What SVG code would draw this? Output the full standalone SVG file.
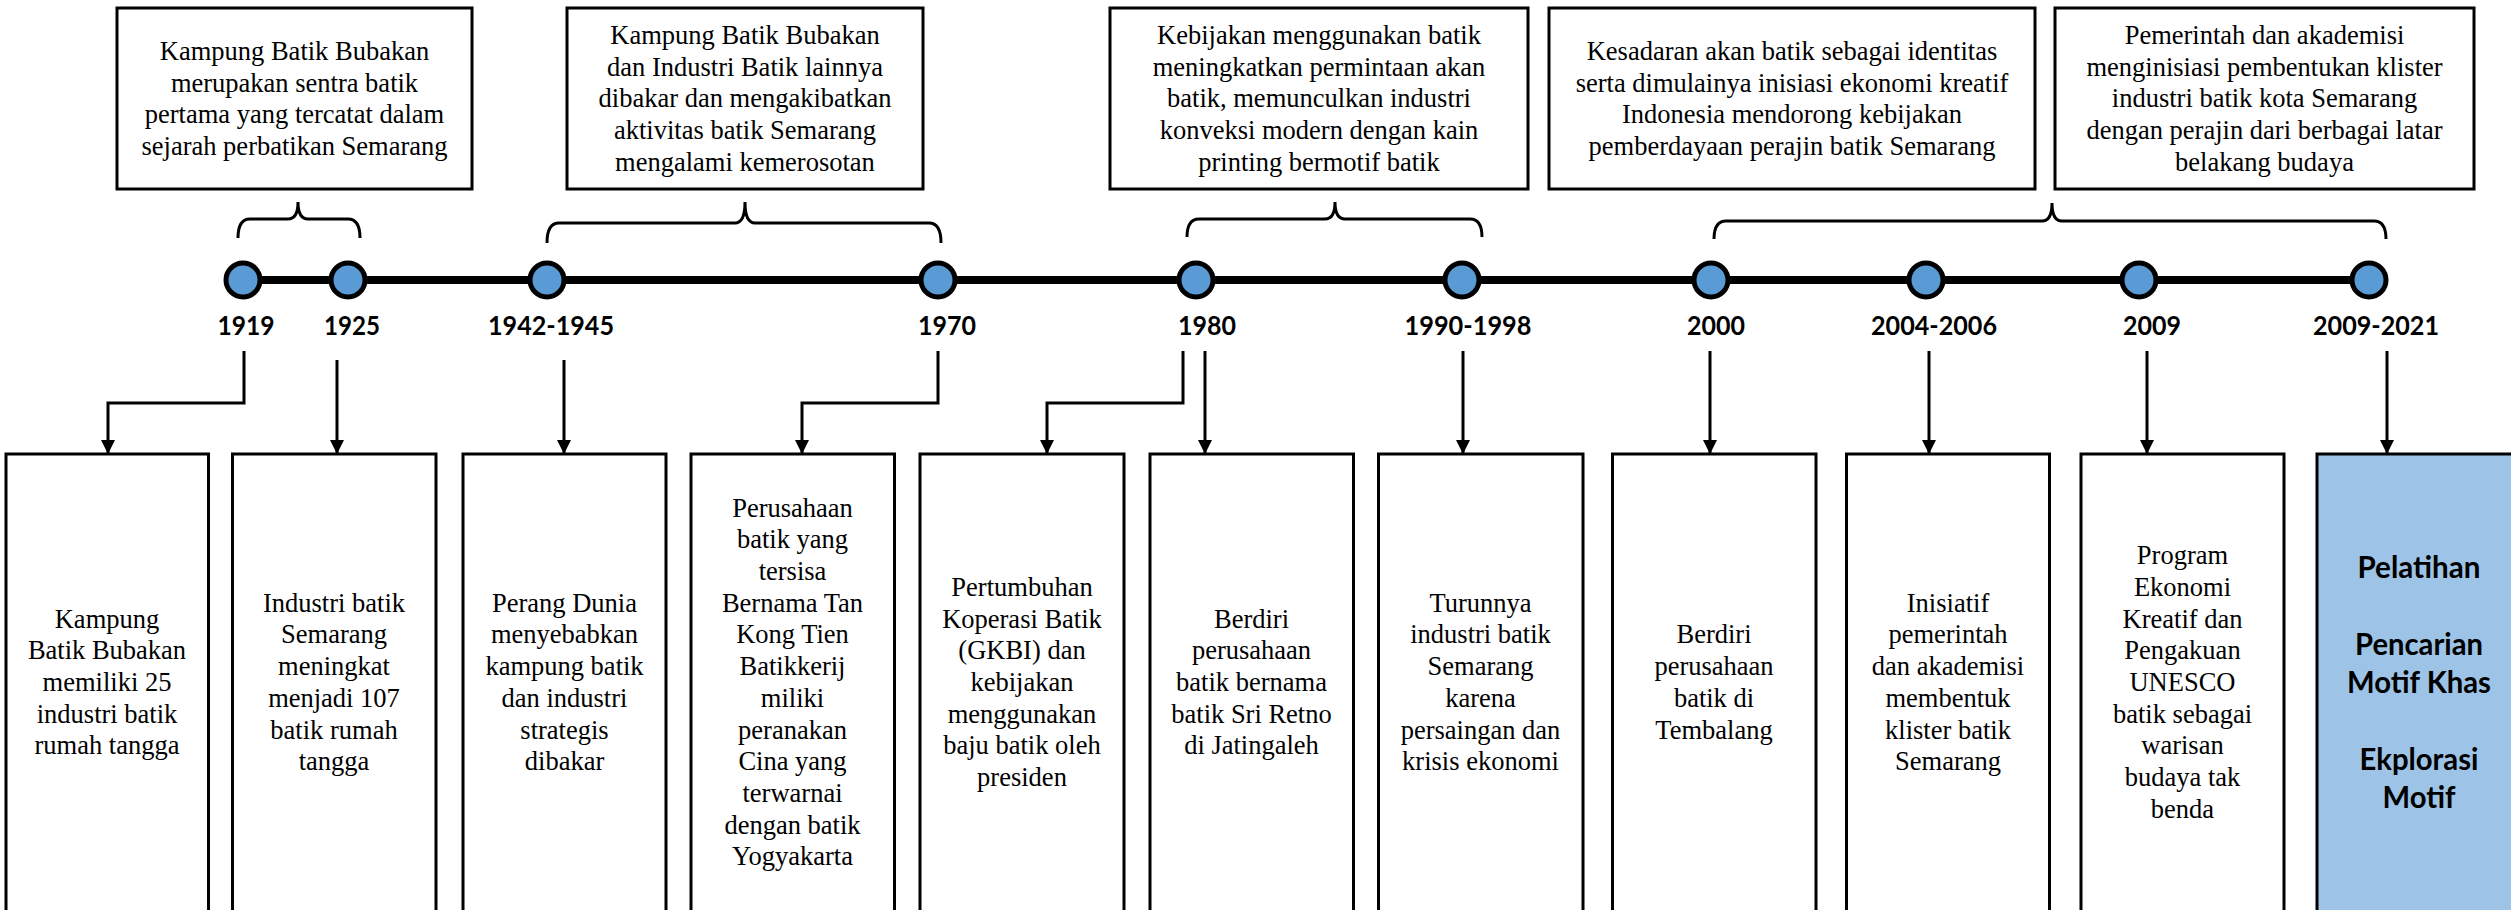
<svg xmlns="http://www.w3.org/2000/svg" width="2511" height="910" viewBox="0 0 2511 910">
<defs>
<style>
.box{fill:#fff;stroke:#000;stroke-width:3}
.hl{fill:#9DC3E6;stroke:#000;stroke-width:3}
.t{font-family:"Liberation Serif","Times New Roman",serif;font-size:26.5px;fill:#000;text-anchor:middle}
.yr{font-family:Lato,"Liberation Sans",sans-serif;font-weight:bold;font-size:27px;fill:#000;text-anchor:middle}
.bt{font-family:Lato,"Liberation Sans",sans-serif;font-weight:bold;font-size:31px;fill:#000;text-anchor:middle}
.dot{fill:#5B9BD5;stroke:#000;stroke-width:5}
.br{fill:none;stroke:#000;stroke-width:3}
.arr{fill:none;stroke:#000;stroke-width:3;marker-end:url(#ah)}
</style>
<marker id="ah" markerWidth="14" markerHeight="14" refX="14" refY="7" orient="auto" markerUnits="userSpaceOnUse"><path d="M0,0 L14,7 L0,14 z" fill="#000"/></marker>
</defs>
<rect width="2511" height="910" fill="#fff"/>

<!-- top notes -->
<g id="note1"><rect class="box" x="117" y="8" width="355" height="181"/>
<text class="t"><tspan x="294.5" y="60">Kampung Batik Bubakan</tspan><tspan x="294.5" dy="31.7">merupakan sentra batik</tspan><tspan x="294.5" dy="31.7">pertama yang tercatat dalam</tspan><tspan x="294.5" dy="31.7">sejarah perbatikan Semarang</tspan></text></g>
<g id="note2"><rect class="box" x="567" y="8" width="356" height="181"/>
<text class="t"><tspan x="745" y="44">Kampung Batik Bubakan</tspan><tspan x="745" dy="31.7">dan Industri Batik lainnya</tspan><tspan x="745" dy="31.7">dibakar dan mengakibatkan</tspan><tspan x="745" dy="31.7">aktivitas batik Semarang</tspan><tspan x="745" dy="31.7">mengalami kemerosotan</tspan></text></g>
<g id="note3"><rect class="box" x="1110" y="8" width="418" height="181"/>
<text class="t"><tspan x="1319" y="44">Kebijakan menggunakan batik</tspan><tspan x="1319" dy="31.7">meningkatkan permintaan akan</tspan><tspan x="1319" dy="31.7">batik, memunculkan industri</tspan><tspan x="1319" dy="31.7">konveksi modern dengan kain</tspan><tspan x="1319" dy="31.7">printing bermotif batik</tspan></text></g>
<g id="note4"><rect class="box" x="1549" y="8" width="486" height="181"/>
<text class="t"><tspan x="1792" y="60">Kesadaran akan batik sebagai identitas</tspan><tspan x="1792" dy="31.7">serta dimulainya inisiasi ekonomi kreatif</tspan><tspan x="1792" dy="31.7">Indonesia mendorong kebijakan</tspan><tspan x="1792" dy="31.7">pemberdayaan perajin batik Semarang</tspan></text></g>
<g id="note5"><rect class="box" x="2055" y="8" width="419" height="181"/>
<text class="t"><tspan x="2264.5" y="44">Pemerintah dan akademisi</tspan><tspan x="2264.5" dy="31.7">menginisiasi pembentukan klister</tspan><tspan x="2264.5" dy="31.7">industri batik kota Semarang</tspan><tspan x="2264.5" dy="31.7">dengan perajin dari berbagai latar</tspan><tspan x="2264.5" dy="31.7">belakang budaya</tspan></text></g>

<!-- connectors -->
<g id="connectors">
<path class="br" d="M238,238 Q238,219 250,219 L288,219 Q298,219 298,202 Q298,219 308,219 L348,219 Q360,219 360,238"/>
<path class="br" d="M547,243 Q547,223 559,223 L735,223 Q745,223 745,202 Q745,223 755,223 L929,223 Q941,223 941,243"/>
<path class="br" d="M1187,237 Q1187,219 1199,219 L1325,219 Q1335,219 1335,202 Q1335,219 1345,219 L1470,219 Q1482,219 1482,237"/>
<path class="br" d="M1714,239 Q1714,221 1726,221 L2042,221 Q2052,221 2052,203 Q2052,221 2062,221 L2374,221 Q2386,221 2386,239"/>
<line x1="242" y1="280" x2="2369" y2="280" stroke="#000" stroke-width="8"/>
<path class="arr" d="M244,351 V403 H108 V454"/>
<path class="arr" d="M337,360 V454"/>
<path class="arr" d="M564,360 V454"/>
<path class="arr" d="M938,351 V403 H802 V454"/>
<path class="arr" d="M1183,351 V403 H1047 V454"/>
<path class="arr" d="M1205,351 V454"/>
<path class="arr" d="M1463,351 V454"/>
<path class="arr" d="M1710,351 V454"/>
<path class="arr" d="M1929,351 V454"/>
<path class="arr" d="M2147,351 V454"/>
<path class="arr" d="M2387,351 V454"/>
</g>

<!-- timeline points -->
<g id="p1919"><circle class="dot" cx="243" cy="280" r="17"/><text class="yr" x="246" y="335" textLength="57" lengthAdjust="spacingAndGlyphs">1919</text></g>
<g id="p1925"><circle class="dot" cx="348" cy="280" r="17"/><text class="yr" x="352" y="335" textLength="56" lengthAdjust="spacingAndGlyphs">1925</text></g>
<g id="p1942"><circle class="dot" cx="547" cy="280" r="17"/><text class="yr" x="551" y="335" textLength="126" lengthAdjust="spacingAndGlyphs">1942-1945</text></g>
<g id="p1970"><circle class="dot" cx="938" cy="280" r="17"/><text class="yr" x="947" y="335" textLength="58" lengthAdjust="spacingAndGlyphs">1970</text></g>
<g id="p1980"><circle class="dot" cx="1196" cy="280" r="17"/><text class="yr" x="1207" y="335" textLength="58" lengthAdjust="spacingAndGlyphs">1980</text></g>
<g id="p1990"><circle class="dot" cx="1462" cy="280" r="17"/><text class="yr" x="1468" y="335" textLength="127" lengthAdjust="spacingAndGlyphs">1990-1998</text></g>
<g id="p2000"><circle class="dot" cx="1711" cy="280" r="17"/><text class="yr" x="1716" y="335" textLength="58" lengthAdjust="spacingAndGlyphs">2000</text></g>
<g id="p2004"><circle class="dot" cx="1926" cy="280" r="17"/><text class="yr" x="1934" y="335" textLength="126" lengthAdjust="spacingAndGlyphs">2004-2006</text></g>
<g id="p2009"><circle class="dot" cx="2139" cy="280" r="17"/><text class="yr" x="2152" y="335" textLength="58" lengthAdjust="spacingAndGlyphs">2009</text></g>
<g id="p2021"><circle class="dot" cx="2369" cy="280" r="17"/><text class="yr" x="2376" y="335" textLength="126" lengthAdjust="spacingAndGlyphs">2009-2021</text></g>

<!-- bottom boxes -->
<g id="e1"><rect class="box" x="6" y="454" width="202.5" height="460"/>
<text class="t"><tspan x="107" y="627.6">Kampung</tspan><tspan x="107" dy="31.7">Batik Bubakan</tspan><tspan x="107" dy="31.7">memiliki 25</tspan><tspan x="107" dy="31.7">industri batik</tspan><tspan x="107" dy="31.7">rumah tangga</tspan></text></g>
<g id="e2"><rect class="box" x="232.5" y="454" width="203.5" height="460"/>
<text class="t"><tspan x="334" y="611.75">Industri batik</tspan><tspan x="334" dy="31.7">Semarang</tspan><tspan x="334" dy="31.7">meningkat</tspan><tspan x="334" dy="31.7">menjadi 107</tspan><tspan x="334" dy="31.7">batik rumah</tspan><tspan x="334" dy="31.7">tangga</tspan></text></g>
<g id="e3"><rect class="box" x="463" y="454" width="203" height="460"/>
<text class="t"><tspan x="564.5" y="611.75">Perang Dunia</tspan><tspan x="564.5" dy="31.7">menyebabkan</tspan><tspan x="564.5" dy="31.7">kampung batik</tspan><tspan x="564.5" dy="31.7">dan industri</tspan><tspan x="564.5" dy="31.7">strategis</tspan><tspan x="564.5" dy="31.7">dibakar</tspan></text></g>
<g id="e4"><rect class="box" x="691" y="454" width="203.5" height="460"/>
<text class="t"><tspan x="792.5" y="516.65">Perusahaan</tspan><tspan x="792.5" dy="31.7">batik yang</tspan><tspan x="792.5" dy="31.7">tersisa</tspan><tspan x="792.5" dy="31.7">Bernama Tan</tspan><tspan x="792.5" dy="31.7">Kong Tien</tspan><tspan x="792.5" dy="31.7">Batikkerij</tspan><tspan x="792.5" dy="31.7">miliki</tspan><tspan x="792.5" dy="31.7">peranakan</tspan><tspan x="792.5" dy="31.7">Cina yang</tspan><tspan x="792.5" dy="31.7">terwarnai</tspan><tspan x="792.5" dy="31.7">dengan batik</tspan><tspan x="792.5" dy="31.7">Yogyakarta</tspan></text></g>
<g id="e5"><rect class="box" x="920" y="454" width="204" height="460"/>
<text class="t"><tspan x="1022" y="595.9">Pertumbuhan</tspan><tspan x="1022" dy="31.7">Koperasi Batik</tspan><tspan x="1022" dy="31.7">(GKBI) dan</tspan><tspan x="1022" dy="31.7">kebijakan</tspan><tspan x="1022" dy="31.7">menggunakan</tspan><tspan x="1022" dy="31.7">baju batik oleh</tspan><tspan x="1022" dy="31.7">presiden</tspan></text></g>
<g id="e6"><rect class="box" x="1150" y="454" width="203.5" height="460"/>
<text class="t"><tspan x="1251.5" y="627.6">Berdiri</tspan><tspan x="1251.5" dy="31.7">perusahaan</tspan><tspan x="1251.5" dy="31.7">batik bernama</tspan><tspan x="1251.5" dy="31.7">batik Sri Retno</tspan><tspan x="1251.5" dy="31.7">di Jatingaleh</tspan></text></g>
<g id="e7"><rect class="box" x="1378.5" y="454" width="204.5" height="460"/>
<text class="t"><tspan x="1480.5" y="611.75">Turunnya</tspan><tspan x="1480.5" dy="31.7">industri batik</tspan><tspan x="1480.5" dy="31.7">Semarang</tspan><tspan x="1480.5" dy="31.7">karena</tspan><tspan x="1480.5" dy="31.7">persaingan dan</tspan><tspan x="1480.5" dy="31.7">krisis ekonomi</tspan></text></g>
<g id="e8"><rect class="box" x="1612.5" y="454" width="203.5" height="460"/>
<text class="t"><tspan x="1714" y="643.45">Berdiri</tspan><tspan x="1714" dy="31.7">perusahaan</tspan><tspan x="1714" dy="31.7">batik di</tspan><tspan x="1714" dy="31.7">Tembalang</tspan></text></g>
<g id="e9"><rect class="box" x="1846.5" y="454" width="203" height="460"/>
<text class="t"><tspan x="1948" y="611.75">Inisiatif</tspan><tspan x="1948" dy="31.7">pemerintah</tspan><tspan x="1948" dy="31.7">dan akademisi</tspan><tspan x="1948" dy="31.7">membentuk</tspan><tspan x="1948" dy="31.7">klister batik</tspan><tspan x="1948" dy="31.7">Semarang</tspan></text></g>
<g id="e10"><rect class="box" x="2081" y="454" width="203" height="460"/>
<text class="t"><tspan x="2182.5" y="564.2">Program</tspan><tspan x="2182.5" dy="31.7">Ekonomi</tspan><tspan x="2182.5" dy="31.7">Kreatif dan</tspan><tspan x="2182.5" dy="31.7">Pengakuan</tspan><tspan x="2182.5" dy="31.7">UNESCO</tspan><tspan x="2182.5" dy="31.7">batik sebagai</tspan><tspan x="2182.5" dy="31.7">warisan</tspan><tspan x="2182.5" dy="31.7">budaya tak</tspan><tspan x="2182.5" dy="31.7">benda</tspan></text></g>
<g id="e11"><rect class="hl" x="2317" y="454" width="204" height="460"/>
<text class="bt" x="2419" y="578" textLength="123" lengthAdjust="spacingAndGlyphs">Pelatihan</text>
<text class="bt" x="2419" y="655" textLength="128" lengthAdjust="spacingAndGlyphs">Pencarian</text>
<text class="bt" x="2419" y="693" textLength="144" lengthAdjust="spacingAndGlyphs">Motif Khas</text>
<text class="bt" x="2419" y="770" textLength="119" lengthAdjust="spacingAndGlyphs">Ekplorasi</text>
<text class="bt" x="2419" y="808" textLength="73" lengthAdjust="spacingAndGlyphs">Motif</text></g>
</svg>
